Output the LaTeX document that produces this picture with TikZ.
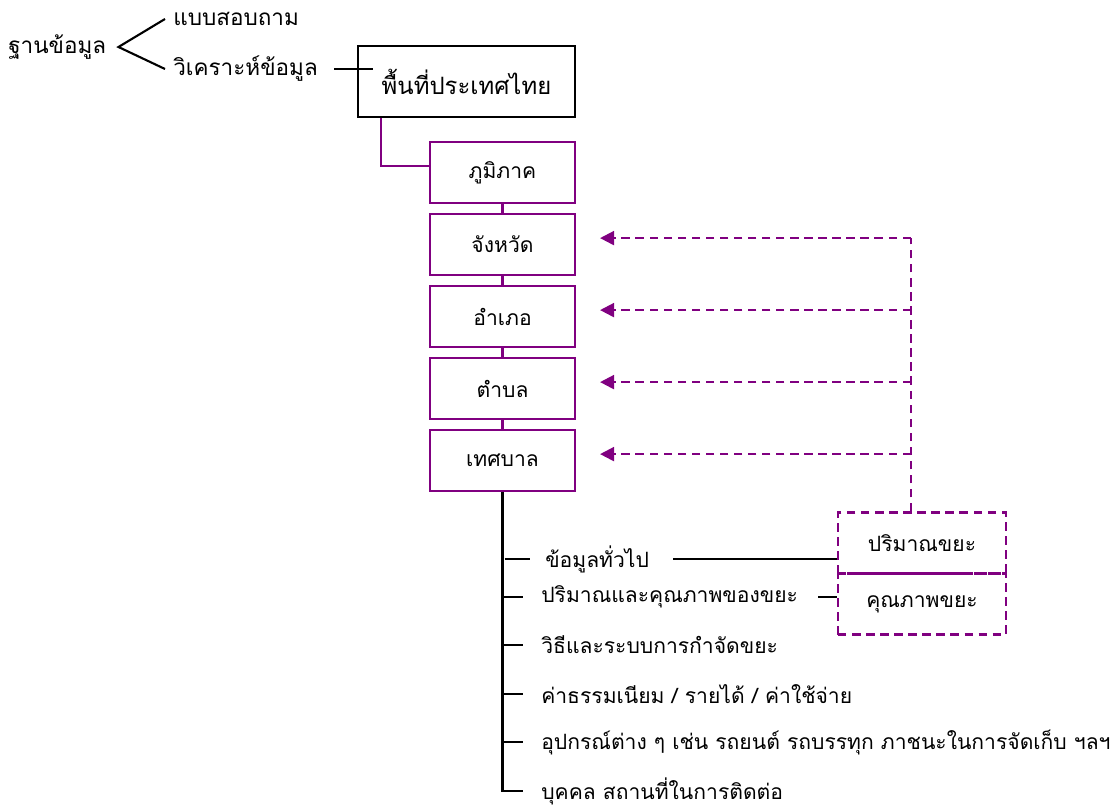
\documentclass[tikz,border=0pt]{standalone}
\usepackage{fontspec}
\newfontfamily\thaifont[Script=Thai]{Loma}
\usetikzlibrary{arrows.meta, positioning, calc}
\definecolor{pur}{RGB}{128,0,128}

\begin{document}
\begin{tikzpicture}[
    every node/.style={font=\thaifont\fontsize{15}{18}\selectfont},
    top/.style={draw, line width=1.5pt, minimum width=5.425cm, minimum height=1.775cm, align=center, inner sep=2pt, font=\thaifont\fontsize{17}{20}\selectfont},
    lv/.style={draw=pur, line width=1.5pt, minimum width=3.625cm, minimum height=1.525cm, align=center, inner sep=2pt},
    qb/.style={draw=pur, line width=1.5pt, dash pattern=on 6pt off 4pt, minimum width=4.2cm, minimum height=1.525cm, align=center, inner sep=2pt},
    it/.style={anchor=west, inner sep=0pt, font=\thaifont\fontsize{15}{18}\selectfont},
    src/.style={anchor=west, inner sep=0pt, font=\thaifont\fontsize{16}{19}\selectfont},
    ln/.style={line width=1.5pt},
    pl/.style={draw=pur, line width=1.5pt},
    dl/.style={draw=pur, line width=1.5pt, dash pattern=on 6pt off 4pt},
    da/.style={dl, -{Triangle[length=3.5mm, width=3.5mm]}}
]
\useasboundingbox (0,0) rectangle (27.95,-20.275);
% source of data
\node[src] (db)  at (0.2,-1.175)   {ฐานข้อมูล};
\node[src] (qst) at (4.325,-0.475) {แบบสอบถาม};
\node[src] (ana) at (4.325,-1.725) {วิเคราะห์ข้อมูล};
\draw[ln] ([xshift=-2mm]qst.west) -- ([xshift=3mm]db.east) -- ([xshift=-2mm]ana.west);
% area levels
\node[top] (land) at (11.6625,-2.0375) {พื้นที่ประเทศไทย};
\draw[ln] ([xshift=4mm]ana.east) -- ([xshift=4mm]ana.east -| land.west);
\node[lv] (reg)  at (12.5625,-4.3125)  {ภูมิภาค};
\node[lv] (prov) at (12.5625,-6.1125)  {จังหวัด};
\node[lv] (dist) at (12.5625,-7.9125)  {อำเภอ};
\node[lv] (sub)  at (12.5625,-9.7125)  {ตำบล};
\node[lv] (mun)  at (12.5625,-11.5125) {เทศบาล};
\draw[pl] ([xshift=6mm]land.south west) |- ([yshift=1.6mm]reg.west);
\draw[pl] (reg)--(prov);
\draw[pl] (prov)--(dist);
\draw[pl] (dist)--(sub);
\draw[pl] (sub)--(mun);
% waste boxes
\node[qb] (qty)  at (23.05,-13.575) {ปริมาณขยะ};
\node[qb] (qual) at (23.05,-15.1)   {คุณภาพขยะ};
% dashed feedback
\coordinate (tr) at ([xshift=-2.75mm]qty.north);
\coordinate (pa) at ([shift={(6mm,1.6mm)}]prov.east);
\coordinate (da) at ([shift={(6mm,1.6mm)}]dist.east);
\coordinate (sa) at ([shift={(6mm,1.6mm)}]sub.east);
\coordinate (ma) at ([shift={(6mm,1.6mm)}]mun.east);
\draw[dl] (tr) -- (tr |- pa);
\draw[da] (tr |- pa) -- (pa);
\draw[da] (tr |- da) -- (da);
\draw[da] (tr |- sa) -- (sa);
\draw[da] (tr |- ma) -- (ma);
% data items
\node[it] (i1) at (13.625,-13.975) {ข้อมูลทั่วไป};
\node[it] (i2) at (13.525,-14.925) {ปริมาณและคุณภาพของขยะ};
\node[it] (i3) at (13.525,-16.125) {วิธีและระบบการกำจัดขยะ};
\node[it] (i4) at (13.525,-17.35)  {ค่าธรรมเนียม / รายได้ / ค่าใช้จ่าย};
\node[it] (i5) at (13.525,-18.55)  {อุปกรณ์ต่าง ๆ เช่น รถยนต์ รถบรรทุก ภาชนะในการจัดเก็บ ฯลฯ};
\node[it] (i6) at (13.525,-19.775) {บุคคล สถานที่ในการติดต่อ};
\draw[ln] (mun.south) |- ([xshift=-4.5mm]i6.west);
\draw[ln] ([xshift=0.5mm]mun.south |- i1.west) -- ([xshift=-3.8mm]i1.west);
\draw[ln] (mun.south |- i2.west) -- ([xshift=-4.5mm]i2.west);
\draw[ln] (mun.south |- i3.west) -- ([xshift=-4.5mm]i3.west);
\draw[ln] (mun.south |- i4.west) -- ([xshift=-4.5mm]i4.west);
\draw[ln] (mun.south |- i5.west) -- ([xshift=-4.5mm]i5.west);
\draw[ln] ([xshift=6mm]i1.east) -- (i1.east -| qty.west);
\draw[ln] ([xshift=5mm]i2.east) -- (i2.east -| qual.west);
\end{tikzpicture}
\end{document}
